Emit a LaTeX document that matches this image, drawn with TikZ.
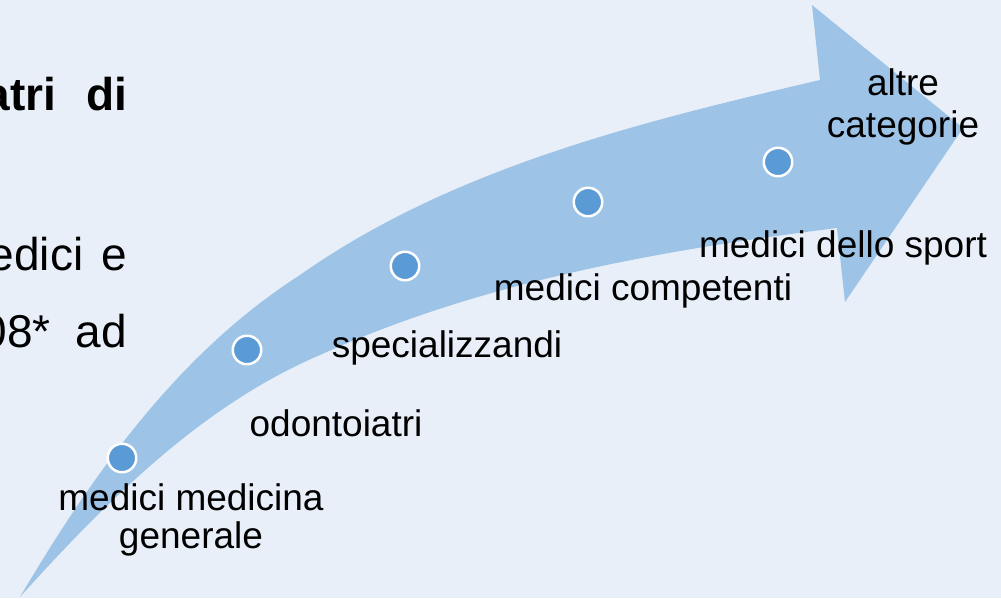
\documentclass[tikz,border=0pt]{standalone}
\usepackage{fontspec}
\setmainfont{Liberation Sans}
\tikzset{
  dot/.style={circle,fill=dotColor,draw=white,line width=2.5pt,minimum size=28.5pt,inner sep=0pt},
  tag/.style={text=black,anchor=base,align=center,inner sep=0pt,outer sep=0pt,font=\fontsize{37}{42}\selectfont},
  bodyline/.style={text=black,anchor=base east,inner sep=0pt,outer sep=0pt,font=\fontsize{46}{52}\selectfont}
}
\begin{document}
\begin{tikzpicture}[x=1pt,y=-1pt]
\definecolor{fillColor}{RGB}{232,239,248}
\definecolor{arrowColor}{RGB}{157,195,230}
\definecolor{dotColor}{RGB}{91,155,213}
\path[use as bounding box,fill=fillColor] (0,0) rectangle (1001,598);

% text cut at the left edge
\node[bodyline] (line1) at (127,110) {\bfseries atri\hspace{30pt}di};
\node[bodyline] (line2) at (127,270) {edici\hspace{18pt}e};
\node[bodyline] (line3) at (127,347) {08*\hspace{25pt}ad};

% curved arrow
\path[fill=arrowColor] ( 20,597) .. controls ( 95,470) and (180,352) .. (300,275) ..
	controls (452,168) and (640,122) .. (820, 80) --
	(812,  5) --
	(963,128) --
	(845,302) --
	(837,228) .. controls (661,250) and (481,282) .. (320,355) ..
	controls (215,400) and (125,480) .. ( 20,597) --
	cycle;

% steps
\node[dot] (dot1) at (122,458) {};
\node[dot] (dot2) at (247,350) {};
\node[dot] (dot3) at (405,266) {};
\node[dot] (dot4) at (588,202) {};
\node[dot] (dot5) at (778,162) {};

\node[tag] (mmg) at (191,548) {medici medicina\\[-4pt]generale};
\node[tag] (odo) at (336,436) {odontoiatri};
\node[tag] (spec) at (447,357) {specializzandi};
\node[tag] (comp) at (643,300) {medici competenti};
\node[tag] (sport) at (843,257) {medici dello sport};
\node[tag] (altre) at (903,137) {altre\\categorie};
\end{tikzpicture}
\end{document}
